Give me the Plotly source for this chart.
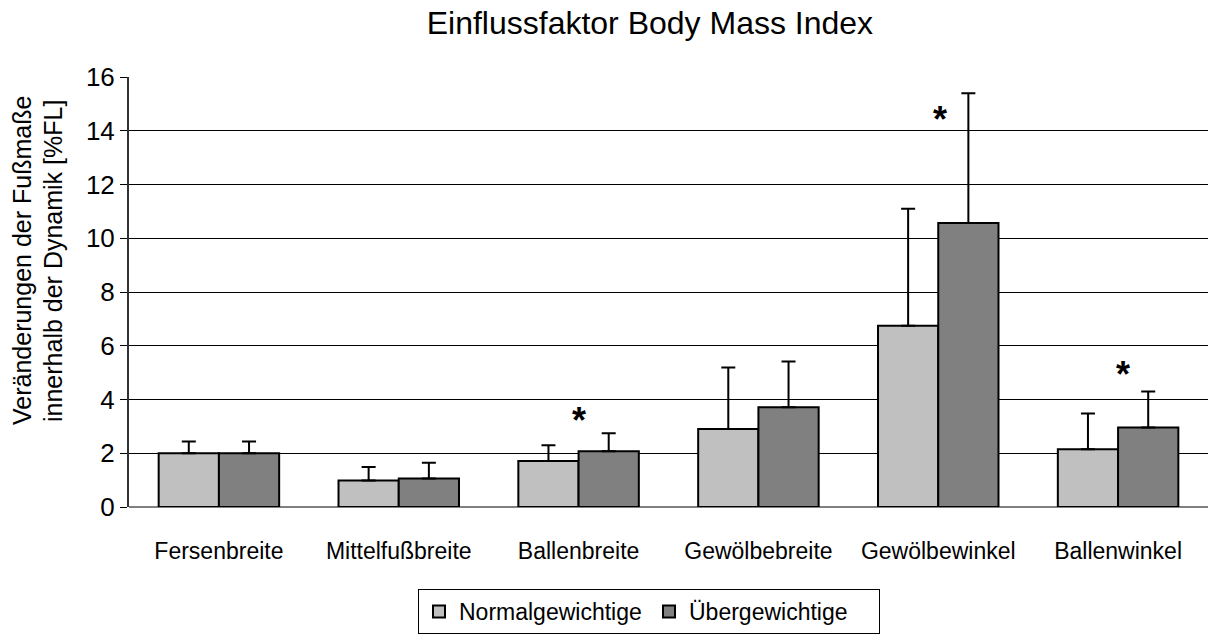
import plotly.graph_objects as go

# Foot-measure changes during dynamic loading, by BMI group
categories = ["Fersenbreite", "Mittelfußbreite", "Ballenbreite",
              "Gewölbebreite", "Gewölbewinkel", "Ballenwinkel"]
normal_mean = [2.0, 0.99, 1.71, 2.90, 6.74, 2.15]
normal_sd = [0.44, 0.50, 0.59, 2.29, 4.36, 1.33]
over_mean = [2.0, 1.06, 2.07, 3.71, 10.57, 2.96]
over_sd = [0.44, 0.59, 0.67, 1.70, 4.83, 1.34]

# significant group differences (category, y position of the marker)
sig_categories = ["Ballenbreite", "Gewölbewinkel", "Ballenwinkel"]
sig_y = [3.4, 14.6, 5.1]
sig_xshift = [0, 2, 5]

y_ticks = [0, 2, 4, 6, 8, 10, 12, 14, 16]

FONT = "Liberation Sans, Arial, sans-serif"

ML, MR, MT, MB = 129, 0, 77, 133
PLOT_W = 1208 - ML - MR
PLOT_H = 640 - MT - MB

fig = go.Figure()
fig.add_trace(go.Bar(
    name="Normalgewichtige", x=categories, y=normal_mean,
    marker=dict(color="#C0C0C0", line=dict(color="black", width=2)),
    error_y=dict(type="data", symmetric=False, array=normal_sd,
                 arrayminus=[0] * len(normal_sd),
                 color="black", thickness=2, width=7),
))
fig.add_trace(go.Bar(
    name="Übergewichtige", x=categories, y=over_mean,
    marker=dict(color="#808080", line=dict(color="black", width=2)),
    error_y=dict(type="data", symmetric=False, array=over_sd,
                 arrayminus=[0] * len(over_sd),
                 color="black", thickness=2, width=7),
))

for cat, yv, xs in zip(sig_categories, sig_y, sig_xshift):
    fig.add_annotation(x=cat, y=yv, xref="x", yref="y", text="<b>*</b>",
                       showarrow=False, xshift=xs, yshift=-5,
                       font=dict(size=36, color="black", family=FONT))

# two-line y-axis title
for text, px in [("Veränderungen der Fußmaße", 22),
                 ("innerhalb der Dynamik [%FL]", 53)]:
    fig.add_annotation(x=(px - ML) / PLOT_W, y=(507 - 261) / PLOT_H,
                       xref="paper", yref="paper",
                       text=text, textangle=-90, showarrow=False,
                       xanchor="center", yanchor="middle",
                       font=dict(size=25, color="black", family=FONT))

fig.update_layout(
    width=1208, height=640,
    margin=dict(l=ML, r=MR, t=MT, b=MB, autoexpand=False),
    paper_bgcolor="white", plot_bgcolor="white",
    font=dict(family=FONT, color="black"),
    title=dict(text="Einflussfaktor Body Mass Index", x=0.538, xanchor="center",
               y=1 - 23 / 640, yanchor="middle",
               font=dict(size=32, color="black", family=FONT)),
    barmode="group", bargap=0.33, bargroupgap=0,
    showlegend=True,
    legend=dict(orientation="h", x=(649 - ML) / PLOT_W, xanchor="center",
                y=(507 - 589) / PLOT_H, yanchor="top",
                bordercolor="black", borderwidth=1, entrywidth=185,
                font=dict(size=23, color="black", family=FONT)),
)
fig.update_xaxes(showgrid=False, showline=False, ticks="",
                 ticklabelstandoff=28,
                 tickfont=dict(size=23, color="black", family=FONT))
fig.update_yaxes(range=[0, 16], tickvals=y_ticks, showgrid=True,
                 gridcolor="black", gridwidth=1,
                 zeroline=True, zerolinecolor="#808080", zerolinewidth=2,
                 showline=True, linecolor="#333333", linewidth=2,
                 ticks="outside", ticklen=7, tickcolor="black", tickwidth=1,
                 tickfont=dict(size=26, color="black", family=FONT))

fig.write_html("out.html")
